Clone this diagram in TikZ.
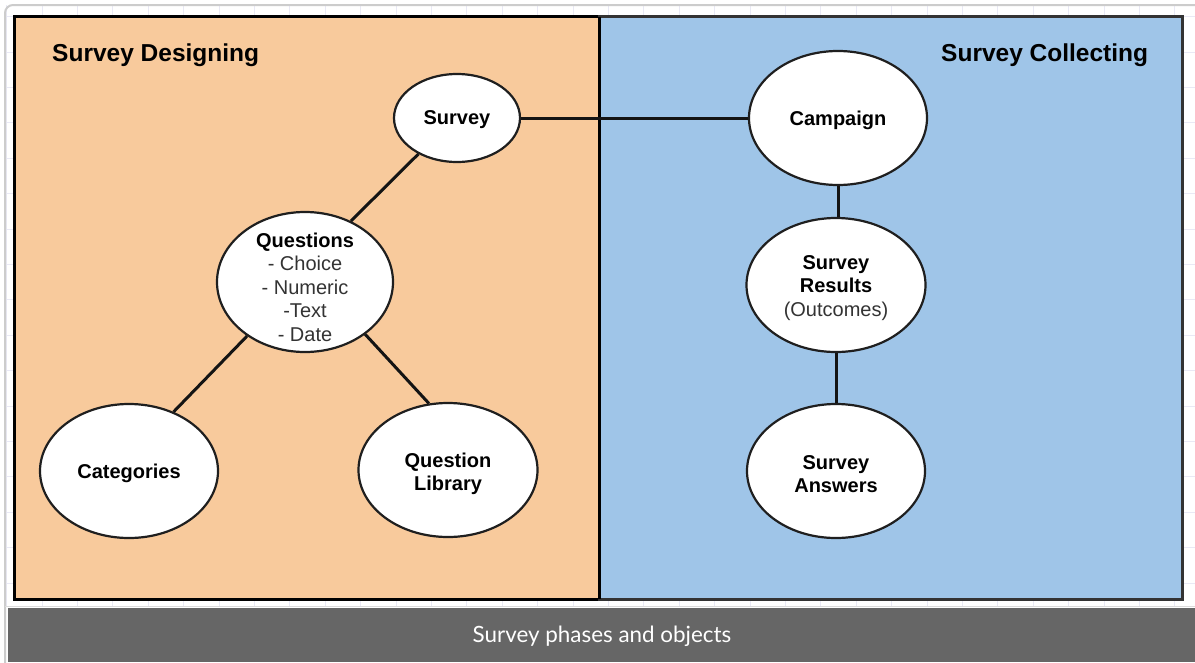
\documentclass[tikz,border=0pt]{standalone}
\usepackage{fontspec}
\setmainfont{Liberation Sans}
\newfontfamily\capfont{Lato}
\usetikzlibrary{shapes.geometric}
\definecolor{peach}{HTML}{F8CA9C}
\definecolor{sky}{HTML}{9FC5E8}
\definecolor{capgray}{HTML}{666666}
\definecolor{gridc}{HTML}{E9E9F5}
\definecolor{txtgray}{HTML}{333333}
\definecolor{framec}{HTML}{CCCCCC}
\tikzset{
  obj/.style={ellipse, draw=black!88, line width=2.2pt, fill=white, inner sep=0pt,
    minimum width=176pt, minimum height=132pt},
  txt/.style={align=center, inner sep=0pt,
    font=\fontsize{20}{23.5}\selectfont\bfseries},
  link/.style={line width=3pt, draw=black!92},
  panel/.style={line width=3pt},
  title/.style={font=\fontsize{24.5}{28}\selectfont\bfseries, inner sep=0pt}
}
\newcommand{\regline}[1]{{\mdseries\color{txtgray}#1}}
\begin{document}
\begin{tikzpicture}[x=1pt,y=-1pt]
\useasboundingbox (0,0) rectangle (1195,662);
\fill[white] (0,0) rectangle (1195,662);
% faint grid
\foreach \x in {6.5,41.9,...,1195} \draw[gridc,line width=0.8pt] (\x,5) -- (\x,606);
\foreach \y in {16.5,51.9,...,606} \draw[gridc,line width=0.8pt] (5,\y) -- (1195,\y);
% outer frame
\draw[framec, line width=2pt, rounded corners=8pt] (5,5) rectangle (1215,700);
% panels
\draw[panel, fill=peach, draw=black] (14.5,16.5) rectangle (599,599);
\draw[panel, fill=sky, draw=black!80] (599,16.5) rectangle (1182,599);
\draw[panel, black] (599,16.5) -- (599,599);
% titles
\node[title, anchor=base west] (t1) at (52,61) {Survey Designing};
\node[title, anchor=base west] (t2) at (941,61) {Survey Collecting};
% ellipses
\node[obj, minimum width=126pt, minimum height=88pt] (survey) at (457,118) {};
\node[obj, minimum width=178pt, minimum height=134pt] (campaign) at (838,118) {};
\node[obj, minimum width=176pt, minimum height=140pt] (questions) at (305,282) {};
\node[obj, minimum width=179pt, minimum height=134pt] (results) at (836,285) {};
\node[obj, minimum width=178pt, minimum height=134pt] (answers) at (836,471) {};
\node[obj, minimum width=178pt, minimum height=134pt] (categories) at (129,471) {};
\node[obj, minimum width=179pt, minimum height=134pt] (library) at (448,470) {};
% texts
\node[txt] (surveyT) at (457,120) {Survey};
\node[txt] (campaignT) at (838,120) {Campaign};
\node[txt] (questionsT) at (305,287)
  {Questions\\\regline{- Choice}\\\regline{- Numeric}\\\regline{-Text}\\\regline{- Date}};
\node[txt] (resultsT) at (836,288) {Survey\\Results\\\regline{(Outcomes)}};
\node[txt] (answersT) at (836,474) {Survey\\Answers};
\node[txt] (categoriesT) at (129,473) {Categories};
\node[txt] (libraryT) at (448,474) {Question\\Library};
% links
\draw[link] (survey.east) -- (campaign.west);
\draw[link] (survey.-137) -- (questions.53);
\draw[link] (questions.-137) -- (categories.53);
\draw[link] (questions.-41) -- (library.106);
\draw[link] (campaign.south) -- (campaign.south |- results.north);
\draw[link] (results.south) -- (results.south |- answers.north);
% caption
\draw[framec!70, line width=1pt] (5,606) -- (1195,606);
\fill[capgray] (8,608) rectangle (1195,662);
\node[font=\capfont\fontsize{22.4}{26}\selectfont, text=white] (cap) at (602,636) {Survey phases and objects};
\end{tikzpicture}
\end{document}
